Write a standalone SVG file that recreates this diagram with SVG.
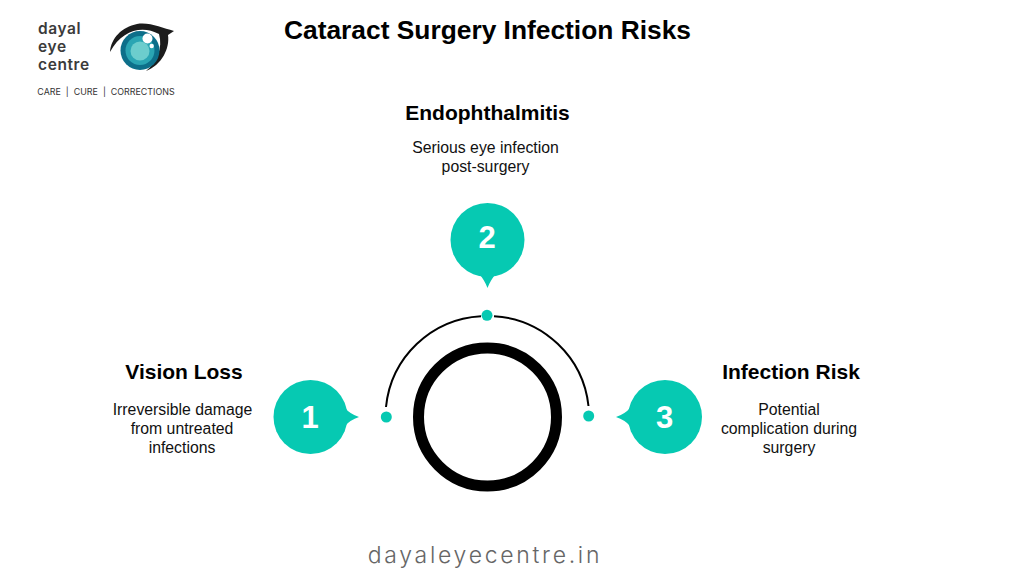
<svg xmlns="http://www.w3.org/2000/svg" width="1024" height="576" viewBox="0 0 1024 576">
<style>
text{font-family:"Liberation Sans",Arial,sans-serif;text-anchor:middle}
.h{font-size:21px;font-weight:700;fill:#000}
.d{font-size:15.800px;fill:#111}
.n{font-size:31px;font-weight:700;fill:#fff}
.b{fill:#06c9b2}
.l{font-family:"Inter","Liberation Sans",sans-serif;font-size:15.500px;font-weight:600;fill:#3b3b3b;text-anchor:start;letter-spacing:.6px}
</style>
<rect width="1024" height="576" fill="#fff"/>
<g id="logo">
<text class="l" x="38" y="34">dayal</text>
<text class="l" x="38" y="52">eye</text>
<text class="l" x="38" y="70">centre</text>
<text x="106" y="95" style="font-family:'Inter','Liberation Sans',sans-serif;font-size:8.900px;fill:#333" xml:space="preserve">CARE  |  CURE  |  CORRECTIONS</text>
<path d="M110 52C111 38 122 27 137 24C150 22 162 28 174 31L168 35C170 48 162 65 146 71C157 62 163 48 159 34C142 25 122 30 110 52Z" fill="#1c1c1c"/>
<circle cx="140" cy="50.500" r="19.500" fill="#0d6f8a"/>
<circle cx="140" cy="50.500" r="14.500" fill="#2aa5b3"/>
<circle cx="140" cy="51" r="9.500" fill="#6ccdcd"/>
<circle cx="147.500" cy="38.500" r="5" fill="#fff"/>
<circle cx="151.700" cy="46" r="2.200" fill="#fff"/>
</g>
<text id="title" x="487.500" y="39" style="font-size:26.350px;font-weight:700;fill:#000">Cataract Surgery Infection Risks</text>
<g id="connectors" fill="none" stroke="#000">
<circle cx="487.500" cy="417" r="69" stroke-width="11"/>
<path d="M386 407A101 101 0 0 1 481 316.200" stroke-width="2"/>
<path d="M494 316.200A101 101 0 0 1 588.500 406" stroke-width="2"/>
</g>
<g id="dots" class="b">
<circle cx="386.300" cy="417" r="5.500"/>
<circle cx="487" cy="315.300" r="5.500"/>
<circle cx="588.700" cy="416" r="5.500"/>
</g>
<g id="node1">
<circle class="b" cx="310.500" cy="417" r="37"/>
<path class="b" d="M345 408Q350 414 359 417Q350 420 345 426Z"/>
<text class="n" x="310" y="428">1</text>
<text class="h" x="184" y="379">Vision Loss</text>
<text class="d" x="182.500" y="415">Irreversible damage</text>
<text class="d" x="182" y="434">from untreated</text>
<text class="d" x="182" y="453">infections</text>
</g>
<g id="node2">
<circle class="b" cx="487.500" cy="240" r="37"/>
<path class="b" d="M479 274Q484 279 487.500 288Q491 279 496 274Z"/>
<text class="n" x="487" y="248">2</text>
<text class="h" x="487.500" y="120">Endophthalmitis</text>
<text class="d" x="485.500" y="153">Serious eye infection</text>
<text class="d" x="485.500" y="172">post-surgery</text>
</g>
<g id="node3">
<circle class="b" cx="665" cy="417" r="37"/>
<path class="b" d="M630 408Q625 414 616 417Q625 420 630 426Z"/>
<text class="n" x="664.500" y="428">3</text>
<text class="h" x="791" y="379">Infection Risk</text>
<text class="d" x="789" y="415">Potential</text>
<text class="d" x="789" y="434">complication during</text>
<text class="d" x="789" y="453">surgery</text>
</g>
<text id="site" x="485" y="563" style="font-family:'Inter','Liberation Sans',sans-serif;font-size:23px;font-weight:300;letter-spacing:2.700px;fill:#666">dayaleyecentre.in</text>
</svg>
